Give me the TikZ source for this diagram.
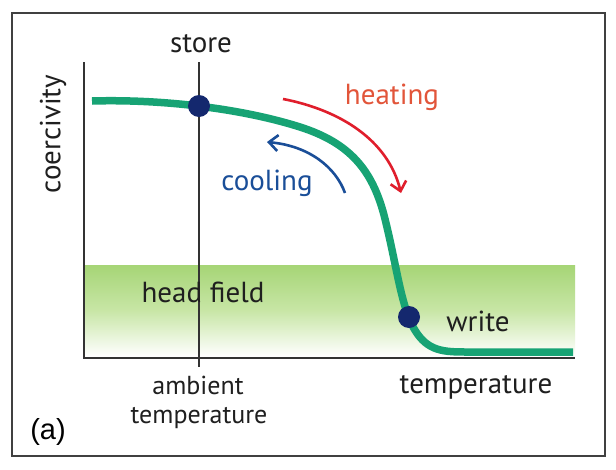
\documentclass[tikz,border=0pt]{standalone}
\usepackage{fontspec}
\setmainfont{PT Sans}
\newfontfamily\arialfont{Liberation Sans}
\usetikzlibrary{arrows.meta}
\definecolor{curvegreen}{HTML}{17A374}
\definecolor{dotblue}{HTML}{14286E}
\definecolor{heatred}{HTML}{E01E2C}
\definecolor{heattext}{HTML}{E2553A}
\definecolor{coolblue}{HTML}{1A4E98}
\definecolor{bandgreen}{HTML}{A6D576}
\definecolor{bandmid}{HTML}{C8E6A6}
\definecolor{inkgray}{HTML}{333333}
\tikzset{
  lbl/.style={inner sep=0pt, text=black!88, font=\fontsize{29}{33}\selectfont},
  dotnode/.style={circle, fill=dotblue, minimum size=22pt, inner sep=0pt},
  axisline/.style={draw=inkgray, line width=1.3pt},
  arrowline/.style={line width=2.6pt, -{Straight Barb[length=9pt,width=16pt,line width=2.6pt]}}
}
\begin{document}
\begin{tikzpicture}[x=1pt,y=-1pt]
\useasboundingbox (0,0) rectangle (616,469);
\fill[white] (0,0) rectangle (616,469);
% frame
\draw[draw=black!75, line width=1.6pt] (12,13) rectangle (605,456);
% head field band
\shade[top color=bandgreen, bottom color=white, middle color=bandmid] (84,265) rectangle (575,356);
% axes
\coordinate (ytop) at (84,62);
\coordinate (orig) at (84,358);
\coordinate (xend) at (575,358);
\coordinate (stop) at (199,62);
\coordinate (sbot) at (199,367);
\draw[axisline] (ytop) -- (orig) -- (xend);
\draw[axisline] (stop) -- (sbot);
% curve
\draw[curvegreen, line width=7.5pt]
  (92,101) .. controls (160,99) and (240,108) .. (300,127)
  .. controls (350,143) and (372,170) .. (384,215)
  .. controls (396,262) and (400,300) .. (412,325)
  .. controls (425,350) and (440,352) .. (465,352)
  -- (573,352);
% dots
\node[dotnode] (storedot) at (199,106) {};
\node[dotnode] (writedot) at (409,317) {};
% arrows
\coordinate (h1) at (283,99);
\coordinate (h2) at (401,193);
\coordinate (c1) at (345,193);
\coordinate (c2) at (267,142);
\draw[arrowline, heatred] (h1) .. controls (340,110) and (388,140) .. (h2);
\draw[arrowline, coolblue] (c1) .. controls (336,168) and (310,146) .. (c2);
% labels
\node[lbl] (store) at (201,44) {store};
\node[lbl, rotate=90] (coer) at (53,134) {coercivity};
\node[lbl, text=heattext] (heating) at (392,97) {heating};
\node[lbl, text=coolblue] (cooling) at (267,183) {cooling};
\node[lbl] (head) at (203,292) {head field};
\node[lbl] (write) at (478,321) {write};
\node[lbl, font=\fontsize{26}{30}\selectfont] (amb1) at (198,385) {ambient};
\node[lbl, font=\fontsize{26}{30}\selectfont] (amb2) at (199,418) {temperature};
\node[lbl] (temp) at (476,387) {temperature};
\node[inner sep=0pt, font=\arialfont\fontsize{29}{33}\selectfont] (a) at (48,432) {(a)};
\end{tikzpicture}
\end{document}
